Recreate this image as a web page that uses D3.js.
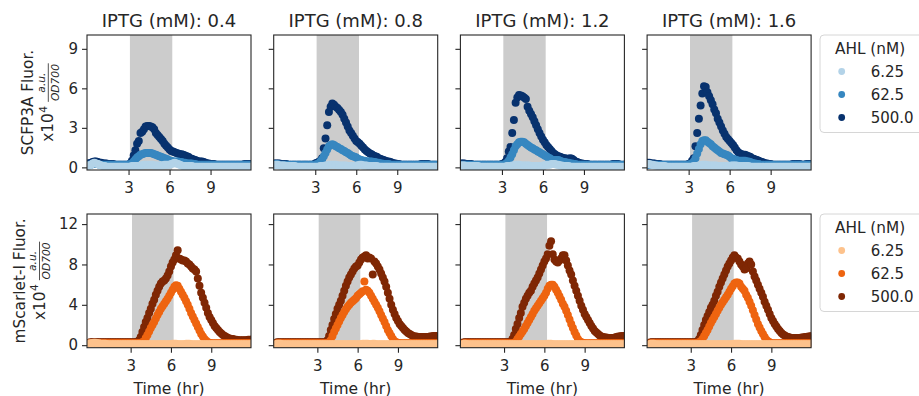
<!DOCTYPE html>
<html><head><meta charset="utf-8">
<script src="https://cdn.jsdelivr.net/npm/d3@7"></script>
<style>body{margin:0;background:#fff}svg{display:block;font-family:"DejaVu Sans",sans-serif}</style>
</head><body><svg id="c" width="919" height="396"></svg>
<script>
// ---------------- data ----------------
const time = [
 0,0.125,0.25,0.375,0.5,0.625,0.75,0.875,
 1,1.125,1.25,1.375,1.5,1.625,1.75,1.875,
 2,2.125,2.25,2.375,2.5,2.625,2.75,2.875,
 3,3.125,3.25,3.375,3.5,3.625,3.75,3.875,
 4,4.125,4.25,4.375,4.5,4.625,4.75,4.875,
 5,5.125,5.25,5.375,5.5,5.625,5.75,5.875,
 6,6.125,6.25,6.375,6.5,6.625,6.75,6.875,
 7,7.125,7.25,7.375,7.5,7.625,7.75,7.875,
 8,8.125,8.25,8.375,8.5,8.625,8.75,8.875,
 9,9.125,9.25,9.375,9.5,9.625,9.75,9.875,
 10,10.125,10.25,10.375,10.5,10.625,10.75,10.875,
 11,11.125,11.25,11.375,11.5,11.625,11.75,11.875,
 12];
const iptgLevels = ["0.4","0.8","1.2","1.6"];
const ahlLevels = ["6.25","62.5","500.0"];
const inductionWindow = [3.1, 6.2];
const cfpTicks = [0,3,6,9];
const rfpTicks = [0,4,8,12];
const timeTicks = [3,6,9];

// SCFP3A fluorescence (x10^4); IPTG 0.4/0.8/1.2/1.6; AHL lo=6.25, mid=62.5, hi=500
const cfp04_lo = [
 0.1,0.15,0.2,0.3,0.35,0.3,0.25,0.2,
 0.15,0.1,0.1,0.05,0.05,0.05,0.05,0.05,
 0.05,0.05,0.05,0.05,0.05,0.05,0.05,0.05,
 0.05,0.05,0.1,0.1,0.1,0.1,0.1,0.15,
 0.15,0.2,0.2,0.2,0.2,0.2,0.2,0.15,
 0.15,0.15,0.15,0.15,0.15,0.2,0.2,0.2,
 0.2,0.25,0.3,0.35,0.3,0.25,0.2,0.15,
 0.1,0.1,0.1,0.1,0.1,0.1,0.05,0.05,
 0.05,0.05,0.05,0.05,0.05,0.05,0.05,0.05,
 0.05,0.05,0.05,0.05,0.05,0.05,0.05,0.05,
 0.05,0.05,0.05,0.05,0.05,0.05,0.05,0.05,
 0.05,0.05,0.05,0.05,0.05,0.05,0.05,0.05,
 0.05];
const cfp04_mid = [
 0.2,0.2,0.2,0.25,0.25,0.25,0.25,0.2,
 0.2,0.2,0.2,0.2,0.2,0.2,0.2,0.2,
 0.2,0.2,0.2,0.2,0.2,0.2,0.2,0.2,
 0.2,0.25,0.3,0.45,0.6,0.75,0.85,0.95,
 1.0,1.05,1.1,1.1,1.1,1.1,1.05,1.0,
 0.95,0.9,0.85,0.8,0.75,0.7,0.65,0.6,
 0.5,0.5,0.45,0.45,0.45,0.45,0.4,0.4,
 0.35,0.35,0.3,0.3,0.3,0.3,0.25,0.25,
 0.2,0.2,0.2,0.2,0.2,0.2,0.2,0.2,
 0.2,0.2,0.2,0.2,0.2,0.2,0.2,0.2,
 0.2,0.2,0.2,0.2,0.2,0.2,0.2,0.2,
 0.2,0.2,0.2,0.2,0.2,0.2,0.2,0.2,
 0.2];
const cfp04_hi = [
 0.3,0.3,0.35,0.4,0.45,0.45,0.4,0.35,
 0.35,0.3,0.3,0.3,0.25,0.25,0.25,0.25,
 0.2,0.2,0.2,0.2,0.2,0.2,0.2,0.2,
 0.2,0.3,0.5,0.9,1.3,1.8,2.0,2.6,
 2.7,2.9,3.1,3.15,3.15,3.1,3.05,2.9,
 2.6,2.45,2.3,2.15,2.0,1.8,1.65,1.5,
 1.35,1.25,1.2,1.15,1.1,1.05,1.0,1.0,
 0.95,0.9,0.85,0.8,0.7,0.65,0.6,0.55,
 0.5,0.45,0.45,0.45,0.4,0.35,0.3,0.3,
 0.25,0.25,0.25,0.2,0.2,0.2,0.2,0.2,
 0.2,0.2,0.2,0.2,0.2,0.2,0.2,0.2,
 0.2,0.2,0.2,0.2,0.25,0.25,0.25,0.25,
 0.25];

const cfp08_lo = [
 0.15,0.2,0.2,0.15,0.15,0.15,0.15,0.1,
 0.1,0.1,0.1,0.1,0.1,0.05,0.05,0.05,
 0.05,0.05,0.05,0.05,0.05,0.05,0.05,0.05,
 0.05,0.05,0.05,0.1,0.1,0.1,0.15,0.15,
 0.2,0.2,0.2,0.2,0.2,0.15,0.15,0.15,
 0.15,0.15,0.15,0.1,0.1,0.1,0.1,0.1,
 0.15,0.15,0.2,0.2,0.15,0.15,0.15,0.1,
 0.1,0.1,0.1,0.1,0.1,0.05,0.05,0.05,
 0.05,0.05,0.05,0.05,0.05,0.05,0.05,0.05,
 0.05,0.05,0.05,0.05,0.05,0.05,0.05,0.05,
 0.05,0.05,0.05,0.05,0.05,0.05,0.05,0.05,
 0.05,0.05,0.05,0.05,0.05,0.05,0.05,0.05,
 0.05];
const cfp08_mid = [
 0.25,0.25,0.25,0.2,0.2,0.2,0.2,0.2,
 0.2,0.2,0.2,0.2,0.2,0.2,0.2,0.2,
 0.2,0.2,0.2,0.2,0.2,0.2,0.2,0.2,
 0.2,0.25,0.3,0.45,0.6,0.85,1.1,1.35,
 1.6,1.7,1.75,1.7,1.6,1.55,1.45,1.4,
 1.3,1.25,1.15,1.1,1.0,0.9,0.85,0.8,
 0.75,0.65,0.6,0.55,0.5,0.5,0.45,0.45,
 0.45,0.45,0.4,0.4,0.35,0.35,0.3,0.3,
 0.25,0.25,0.25,0.25,0.2,0.2,0.2,0.2,
 0.2,0.2,0.2,0.2,0.2,0.2,0.2,0.2,
 0.2,0.2,0.2,0.2,0.2,0.2,0.2,0.2,
 0.2,0.2,0.2,0.2,0.2,0.2,0.2,0.2,
 0.2];
const cfp08_hi = [
 0.3,0.3,0.3,0.3,0.25,0.25,0.25,0.25,
 0.2,0.2,0.2,0.2,0.2,0.2,0.2,0.2,
 0.2,0.2,0.2,0.2,0.2,0.2,0.2,0.2,
 0.3,0.35,0.4,0.5,0.7,1.45,2.2,3.2,
 4.2,4.6,4.85,4.75,4.6,4.5,4.35,4.2,
 4.0,3.7,3.4,3.1,2.8,2.6,2.4,2.2,
 2.0,1.9,1.8,1.65,1.5,1.35,1.25,1.15,
 1.05,1.0,0.9,0.85,0.8,0.7,0.65,0.6,
 0.55,0.5,0.45,0.45,0.4,0.35,0.3,0.3,
 0.25,0.25,0.2,0.2,0.2,0.2,0.2,0.2,
 0.2,0.2,0.2,0.2,0.2,0.2,0.25,0.25,
 0.25,0.25,0.25,0.2,0.2,0.2,0.2,0.2,
 0.2];

const cfp12_lo = [
 0.15,0.15,0.15,0.1,0.1,0.1,0.1,0.1,
 0.1,0.1,0.1,0.05,0.05,0.05,0.05,0.05,
 0.05,0.05,0.05,0.05,0.05,0.05,0.05,0.05,
 0.05,0.05,0.05,0.1,0.1,0.1,0.15,0.15,
 0.2,0.2,0.2,0.15,0.15,0.15,0.15,0.15,
 0.15,0.1,0.1,0.1,0.1,0.1,0.1,0.1,
 0.15,0.15,0.2,0.2,0.2,0.25,0.25,0.25,
 0.2,0.2,0.15,0.15,0.1,0.1,0.1,0.1,
 0.05,0.05,0.05,0.05,0.05,0.05,0.05,0.05,
 0.05,0.05,0.05,0.05,0.05,0.05,0.05,0.05,
 0.05,0.05,0.05,0.05,0.05,0.05,0.05,0.05,
 0.05,0.05,0.05,0.05,0.05,0.05,0.05,0.05,
 0.05];
const cfp12_mid = [
 0.2,0.2,0.2,0.2,0.2,0.2,0.2,0.2,
 0.2,0.2,0.2,0.2,0.2,0.2,0.2,0.2,
 0.2,0.2,0.2,0.2,0.2,0.2,0.2,0.2,
 0.2,0.2,0.25,0.35,0.5,0.75,1.0,1.3,
 1.6,1.75,1.9,1.95,1.95,1.9,1.8,1.7,
 1.6,1.5,1.45,1.35,1.3,1.2,1.15,1.05,
 1.0,0.9,0.85,0.75,0.7,0.6,0.55,0.55,
 0.55,0.55,0.5,0.45,0.4,0.4,0.35,0.35,
 0.3,0.3,0.25,0.25,0.2,0.2,0.2,0.2,
 0.2,0.2,0.2,0.2,0.2,0.2,0.2,0.2,
 0.2,0.2,0.2,0.2,0.2,0.2,0.2,0.2,
 0.2,0.2,0.2,0.2,0.2,0.2,0.2,0.2,
 0.2];
const cfp12_hi = [
 0.3,0.3,0.3,0.25,0.25,0.25,0.25,0.2,
 0.2,0.2,0.2,0.2,0.2,0.2,0.2,0.2,
 0.2,0.2,0.2,0.2,0.2,0.2,0.2,0.2,
 0.25,0.3,0.4,0.7,1.2,1.55,2.6,3.6,
 4.9,5.3,5.5,5.45,5.4,5.3,5.2,4.6,
 4.3,4.05,3.8,3.5,3.2,2.9,2.6,2.35,
 2.1,1.9,1.7,1.55,1.4,1.25,1.1,1.0,
 0.9,0.85,0.8,0.75,0.7,0.7,0.65,0.65,
 0.7,0.65,0.55,0.45,0.4,0.35,0.3,0.3,
 0.25,0.25,0.25,0.2,0.2,0.2,0.2,0.2,
 0.2,0.2,0.2,0.2,0.2,0.2,0.2,0.2,
 0.2,0.25,0.25,0.25,0.25,0.2,0.2,0.2,
 0.2];

const cfp16_lo = [
 0.25,0.25,0.2,0.2,0.15,0.15,0.1,0.1,
 0.1,0.1,0.1,0.05,0.05,0.05,0.05,0.05,
 0.05,0.05,0.05,0.05,0.05,0.05,0.05,0.05,
 0.05,0.05,0.05,0.1,0.1,0.1,0.15,0.15,
 0.2,0.2,0.2,0.15,0.15,0.15,0.15,0.15,
 0.15,0.1,0.1,0.1,0.1,0.1,0.1,0.1,
 0.1,0.15,0.15,0.15,0.15,0.1,0.1,0.1,
 0.1,0.1,0.1,0.1,0.05,0.05,0.05,0.05,
 0.05,0.05,0.05,0.05,0.05,0.05,0.05,0.05,
 0.05,0.05,0.05,0.05,0.05,0.05,0.05,0.05,
 0.05,0.05,0.05,0.05,0.05,0.05,0.05,0.05,
 0.05,0.05,0.05,0.05,0.05,0.05,0.05,0.05,
 0.05];
const cfp16_mid = [
 0.2,0.2,0.2,0.2,0.2,0.2,0.2,0.2,
 0.2,0.2,0.2,0.2,0.2,0.2,0.2,0.2,
 0.2,0.2,0.2,0.2,0.2,0.2,0.2,0.2,
 0.2,0.25,0.3,0.45,0.7,1.05,1.4,1.75,
 2.0,2.05,2.05,1.95,1.85,1.75,1.6,1.5,
 1.4,1.3,1.2,1.1,1.05,1.0,0.95,0.9,
 0.8,0.7,0.65,0.6,0.55,0.5,0.5,0.5,
 0.5,0.5,0.45,0.45,0.4,0.35,0.3,0.3,
 0.25,0.25,0.2,0.2,0.2,0.2,0.2,0.2,
 0.2,0.2,0.2,0.2,0.2,0.2,0.2,0.2,
 0.2,0.2,0.2,0.2,0.2,0.2,0.2,0.2,
 0.2,0.2,0.2,0.2,0.2,0.2,0.2,0.2,
 0.2];
const cfp16_hi = [
 0.35,0.35,0.3,0.3,0.3,0.25,0.25,0.25,
 0.2,0.2,0.2,0.2,0.2,0.2,0.2,0.2,
 0.2,0.2,0.2,0.2,0.2,0.2,0.2,0.2,
 0.25,0.3,0.5,0.7,1.6,2.6,3.7,4.7,
 5.6,6.15,6.1,5.7,5.4,5.1,4.8,4.4,
 4.1,3.7,3.4,3.1,2.8,2.55,2.3,2.15,
 2.0,1.85,1.7,1.5,1.3,1.15,1.05,1.0,
 0.95,0.95,0.9,0.85,0.8,0.7,0.65,0.6,
 0.55,0.5,0.45,0.4,0.35,0.3,0.3,0.25,
 0.25,0.2,0.2,0.2,0.2,0.2,0.2,0.2,
 0.2,0.2,0.2,0.2,0.2,0.25,0.25,0.25,
 0.25,0.25,0.2,0.2,0.2,0.25,0.25,0.25,
 0.25];

// mScarlet-I fluorescence (x10^4)
const rfp04_lo = [
 0.2,0.2,0.25,0.25,0.2,0.2,0.15,0.15,
 0.15,0.15,0.1,0.1,0.1,0.1,0.1,0.1,
 0.1,0.1,0.1,0.1,0.1,0.1,0.1,0.1,
 0.1,0.1,0.1,0.1,0.1,0.1,0.1,0.1,
 0.1,0.1,0.1,0.1,0.1,0.1,0.1,0.1,
 0.1,0.1,0.1,0.1,0.1,0.1,0.1,0.1,
 0.1,0.15,0.15,0.15,0.1,0.1,0.1,0.1,
 0.1,0.15,0.15,0.15,0.1,0.1,0.1,0.1,
 0.1,0.1,0.1,0.1,0.1,0.1,0.1,0.1,
 0.1,0.1,0.1,0.1,0.1,0.1,0.1,0.1,
 0.1,0.1,0.1,0.1,0.1,0.1,0.1,0.1,
 0.1,0.1,0.1,0.1,0.1,0.1,0.1,0.1,
 0.1];
const rfp04_mid = [
 0.2,0.2,0.2,0.2,0.2,0.2,0.2,0.2,
 0.2,0.2,0.2,0.2,0.2,0.2,0.2,0.2,
 0.2,0.2,0.2,0.2,0.2,0.2,0.2,0.2,
 0.2,0.2,0.2,0.2,0.2,0.2,0.25,0.3,
 0.4,0.7,1.0,1.35,1.7,2.0,2.3,2.65,
 3.0,3.3,3.6,3.85,4.1,4.35,4.6,4.9,
 5.2,5.5,5.8,5.95,5.9,5.6,5.3,5.0,
 4.7,4.35,4.0,3.6,3.2,2.85,2.5,2.15,
 1.8,1.45,1.1,0.85,0.6,0.45,0.3,0.25,
 0.2,0.2,0.2,0.2,0.2,0.2,0.2,0.2,
 0.2,0.2,0.2,0.2,0.2,0.2,0.2,0.2,
 0.2,0.2,0.2,0.2,0.2,0.2,0.2,0.2,
 0.2];
const rfp04_hi = [
 0.3,0.3,0.3,0.3,0.3,0.3,0.3,0.3,
 0.3,0.3,0.3,0.3,0.3,0.3,0.3,0.3,
 0.3,0.3,0.3,0.3,0.3,0.3,0.3,0.3,
 0.3,0.3,0.3,0.3,0.35,0.5,0.8,1.3,
 1.8,2.3,2.7,3.2,3.6,4.1,4.5,5.0,
 5.4,5.8,6.1,6.3,6.4,6.6,6.9,7.3,
 7.8,8.2,8.5,8.9,9.4,8.6,8.5,8.4,
 8.4,8.3,8.1,8.0,7.8,7.6,7.5,7.3,
 6.6,5.9,5.2,4.7,4.2,3.7,3.2,2.8,
 2.5,2.2,1.9,1.7,1.5,1.3,1.15,1.0,
 0.9,0.8,0.7,0.65,0.6,0.6,0.55,0.55,
 0.5,0.5,0.5,0.5,0.5,0.5,0.55,0.55,
 0.55];

const rfp08_lo = [
 0.15,0.15,0.15,0.1,0.1,0.1,0.1,0.1,
 0.1,0.1,0.1,0.1,0.1,0.1,0.1,0.1,
 0.1,0.1,0.1,0.1,0.1,0.1,0.1,0.1,
 0.1,0.1,0.1,0.1,0.1,0.1,0.1,0.1,
 0.1,0.1,0.1,0.1,0.1,0.1,0.1,0.1,
 0.1,0.1,0.1,0.1,0.1,0.1,0.1,0.1,
 0.1,0.1,0.1,0.15,0.15,0.15,0.15,0.1,
 0.1,0.15,0.15,0.1,0.1,0.1,0.1,0.1,
 0.1,0.1,0.1,0.1,0.1,0.1,0.1,0.1,
 0.1,0.1,0.1,0.1,0.1,0.1,0.1,0.1,
 0.1,0.1,0.1,0.1,0.1,0.1,0.1,0.1,
 0.1,0.1,0.1,0.1,0.1,0.1,0.1,0.1,
 0.1];
const rfp08_mid = [
 0.2,0.2,0.2,0.2,0.2,0.2,0.2,0.2,
 0.2,0.2,0.2,0.2,0.2,0.2,0.2,0.2,
 0.2,0.2,0.2,0.2,0.2,0.2,0.2,0.2,
 0.2,0.2,0.2,0.2,0.2,0.2,0.25,0.3,
 0.5,0.9,1.3,1.65,2.0,2.35,2.7,3.0,
 3.3,3.55,3.8,4.0,4.2,4.35,4.5,4.65,
 4.9,5.05,5.2,5.35,6.3,5.5,5.4,5.2,
 4.9,4.6,4.3,4.0,3.7,3.35,3.0,2.65,
 2.3,1.9,1.5,1.2,0.9,0.6,0.4,0.3,
 0.25,0.2,0.2,0.2,0.2,0.2,0.2,0.2,
 0.2,0.2,0.2,0.2,0.2,0.2,0.2,0.2,
 0.2,0.2,0.2,0.2,0.2,0.2,0.2,0.2,
 0.2];
const rfp08_hi = [
 0.3,0.3,0.3,0.3,0.3,0.3,0.3,0.3,
 0.3,0.3,0.3,0.3,0.3,0.3,0.3,0.3,
 0.3,0.3,0.3,0.3,0.3,0.3,0.3,0.3,
 0.3,0.3,0.3,0.3,0.3,0.3,0.5,0.9,
 1.5,2.0,2.6,3.1,3.6,4.0,4.4,4.9,
 5.4,5.9,6.3,6.7,7.0,7.3,7.6,7.8,
 7.9,8.2,8.5,8.7,8.8,8.9,8.6,8.7,
 8.6,7.0,8.3,8.1,7.8,7.5,7.1,6.7,
 6.3,5.8,5.2,4.6,4.0,3.5,3.1,2.7,
 2.4,2.1,1.9,1.7,1.5,1.35,1.2,1.1,
 1.0,0.9,0.85,0.85,0.8,0.8,0.8,0.8,
 0.8,0.8,0.8,0.85,0.85,0.9,0.9,0.9,
 0.9];

const rfp12_lo = [
 0.15,0.15,0.1,0.1,0.1,0.1,0.1,0.1,
 0.1,0.1,0.1,0.1,0.1,0.1,0.1,0.1,
 0.1,0.1,0.1,0.1,0.1,0.1,0.1,0.1,
 0.1,0.1,0.1,0.1,0.1,0.1,0.1,0.1,
 0.1,0.1,0.1,0.1,0.1,0.1,0.1,0.1,
 0.1,0.1,0.1,0.1,0.1,0.1,0.1,0.1,
 0.1,0.1,0.15,0.15,0.15,0.1,0.1,0.1,
 0.1,0.1,0.1,0.1,0.1,0.1,0.1,0.1,
 0.1,0.1,0.1,0.1,0.1,0.1,0.1,0.1,
 0.1,0.1,0.1,0.1,0.1,0.1,0.1,0.1,
 0.1,0.1,0.1,0.1,0.1,0.1,0.1,0.1,
 0.1,0.1,0.1,0.1,0.1,0.1,0.1,0.1,
 0.1];
const rfp12_mid = [
 0.2,0.2,0.2,0.2,0.2,0.2,0.2,0.2,
 0.2,0.2,0.2,0.2,0.2,0.2,0.2,0.2,
 0.2,0.2,0.2,0.2,0.2,0.2,0.2,0.2,
 0.2,0.2,0.2,0.2,0.2,0.2,0.25,0.35,
 0.6,0.85,1.1,1.35,1.6,1.9,2.2,2.5,
 2.8,3.1,3.4,3.65,3.9,4.15,4.4,4.65,
 4.9,5.2,5.6,5.9,6.0,6.0,5.8,5.5,
 5.2,4.85,4.5,4.1,3.8,3.4,3.0,2.55,
 2.1,1.7,1.3,0.95,0.6,0.4,0.3,0.25,
 0.2,0.2,0.2,0.2,0.2,0.2,0.2,0.2,
 0.2,0.2,0.2,0.2,0.2,0.2,0.2,0.2,
 0.2,0.2,0.2,0.2,0.2,0.2,0.2,0.2,
 0.2];
const rfp12_hi = [
 0.3,0.3,0.3,0.3,0.3,0.3,0.3,0.3,
 0.3,0.3,0.3,0.3,0.3,0.3,0.3,0.3,
 0.3,0.3,0.3,0.3,0.3,0.3,0.3,0.3,
 0.3,0.3,0.3,0.3,0.35,0.6,1.0,1.6,
 2.1,2.7,3.2,3.8,4.2,4.6,4.9,5.2,
 5.4,5.8,6.1,6.4,6.7,7.1,7.5,7.9,
 8.3,8.6,9.0,9.85,10.3,9.0,8.5,8.3,
 8.2,8.4,8.6,8.9,8.9,8.4,7.9,7.4,
 7.0,6.4,5.9,5.4,4.9,4.4,3.9,3.5,
 3.1,2.8,2.5,2.2,1.9,1.65,1.4,1.25,
 1.1,0.95,0.85,0.8,0.75,0.75,0.7,0.7,
 0.7,0.7,0.75,0.8,0.85,0.85,0.9,0.9,
 0.9];

const rfp16_lo = [
 0.15,0.15,0.15,0.1,0.1,0.1,0.1,0.1,
 0.1,0.1,0.1,0.1,0.1,0.1,0.1,0.1,
 0.1,0.1,0.1,0.1,0.1,0.1,0.1,0.1,
 0.1,0.1,0.1,0.1,0.1,0.1,0.1,0.1,
 0.1,0.1,0.1,0.1,0.1,0.1,0.1,0.1,
 0.1,0.1,0.1,0.1,0.1,0.1,0.1,0.1,
 0.1,0.1,0.15,0.15,0.15,0.15,0.1,0.1,
 0.1,0.1,0.1,0.1,0.1,0.1,0.1,0.1,
 0.1,0.1,0.1,0.1,0.1,0.1,0.1,0.1,
 0.1,0.1,0.1,0.1,0.1,0.1,0.1,0.1,
 0.1,0.1,0.1,0.1,0.1,0.1,0.1,0.1,
 0.1,0.1,0.1,0.1,0.1,0.1,0.1,0.1,
 0.1];
const rfp16_mid = [
 0.2,0.2,0.2,0.2,0.2,0.2,0.2,0.2,
 0.2,0.2,0.2,0.2,0.2,0.2,0.2,0.2,
 0.2,0.2,0.2,0.2,0.2,0.2,0.2,0.2,
 0.2,0.2,0.2,0.2,0.25,0.3,0.4,0.6,
 0.9,1.2,1.5,1.85,2.2,2.5,2.8,3.1,
 3.4,3.7,4.0,4.25,4.5,4.75,5.0,5.3,
 5.6,5.85,6.1,6.2,6.2,6.1,5.8,5.6,
 5.4,5.0,4.7,4.3,3.9,3.45,3.0,2.55,
 2.1,1.75,1.4,1.1,0.8,0.55,0.4,0.3,
 0.2,0.2,0.2,0.2,0.2,0.2,0.2,0.2,
 0.2,0.2,0.2,0.2,0.2,0.2,0.2,0.2,
 0.2,0.2,0.2,0.2,0.2,0.2,0.2,0.2,
 0.2];
const rfp16_hi = [
 0.3,0.3,0.3,0.3,0.3,0.3,0.3,0.3,
 0.3,0.3,0.3,0.3,0.3,0.3,0.3,0.3,
 0.3,0.3,0.3,0.3,0.3,0.3,0.3,0.3,
 0.3,0.3,0.3,0.3,0.4,0.6,1.0,1.5,
 2.0,2.5,2.9,3.3,3.7,4.0,4.4,4.9,
 5.3,5.8,6.2,6.6,7.0,7.4,7.8,8.1,
 8.4,8.7,8.9,8.7,8.6,8.3,8.0,7.8,
 7.5,7.6,8.1,8.3,8.0,7.3,6.8,6.4,
 6.0,5.6,5.2,4.8,4.3,3.9,3.5,3.1,
 2.7,2.4,2.1,1.85,1.6,1.4,1.2,1.05,
 0.95,0.85,0.8,0.75,0.7,0.7,0.7,0.7,
 0.7,0.7,0.75,0.75,0.8,0.8,0.85,0.85,
 0.9];

const bluePalette = ["#b3d3e8","#3787c0","#08326e"];
const orangePalette = ["#fdc28c","#ee6410","#7f2704"];

// ---------------- layout ----------------
const svg = d3.select("#c");
const ink = "#262626";
const panelLeft = [87, 273.7, 460.4, 647.1];
const panelW = 164;
const R = 4;

const rows = [
  {id:"cfp", top:35, bottom:170, xDomain:[-0.04,11.96], yDomain:[-0.2,10.05], yTicks:cfpTicks,
   colors:bluePalette, label:"SCFP3A Fluor.", labelX:33.3,
   series:[[cfp04_lo,cfp04_mid,cfp04_hi],[cfp08_lo,cfp08_mid,cfp08_hi],[cfp12_lo,cfp12_mid,cfp12_hi],[cfp16_lo,cfp16_mid,cfp16_hi]]},
  {id:"rfp", top:214, bottom:347.7, xDomain:[-0.25,11.96], yDomain:[-0.25,13.0], yTicks:rfpTicks,
   colors:orangePalette, label:"mScarlet-I Fluor.", labelX:24.5,
   series:[[rfp04_lo,rfp04_mid,rfp04_hi],[rfp08_lo,rfp08_mid,rfp08_hi],[rfp12_lo,rfp12_mid,rfp12_hi],[rfp16_lo,rfp16_mid,rfp16_hi]]}
];

const defs = svg.append("defs");

rows.forEach((row, ri) => {
  const y = d3.scaleLinear().domain(row.yDomain).range([row.bottom, row.top]);
  const h = row.bottom - row.top;
  iptgLevels.forEach((lvl, ci) => {
    const L = panelLeft[ci];
    const x = d3.scaleLinear().domain(row.xDomain).range([L, L + panelW]);
    const cid = `clip-${row.id}-${ci}`;
    defs.append("clipPath").attr("id", cid).append("rect")
      .attr("x", L).attr("y", row.top).attr("width", panelW).attr("height", h);
    const g = svg.append("g");
    const inner = g.append("g").attr("clip-path", `url(#${cid})`);
    inner.append("rect")
      .attr("x", x(inductionWindow[0])).attr("y", row.top)
      .attr("width", x(inductionWindow[1]) - x(inductionWindow[0])).attr("height", h)
      .attr("fill", "#cccccc");
    [2,1,0].forEach(k => {
      const vals = row.series[ci][k];
      inner.append("g").selectAll("circle").data(time.map((t,i)=>({t, v:vals[i]})))
        .join("circle")
        .attr("cx", d => x(d.t)).attr("cy", d => y(d.v)).attr("r", R)
        .attr("fill", row.colors[k]);
    });
    const ya = g.append("g").attr("transform", `translate(${L},0)`)
      .call(d3.axisLeft(y).tickValues(row.yTicks).tickSize(5).tickPadding(4)
        .tickFormat(ci === 0 ? d3.format("d") : () => ""));
    const xa = g.append("g").attr("transform", `translate(0,${row.bottom})`)
      .call(d3.axisBottom(x).tickValues(timeTicks).tickSize(5).tickPadding(7.5).tickFormat(d3.format("d")));
    [ya, xa].forEach(a => {
      a.select(".domain").remove();
      a.selectAll("line").attr("stroke", ink).attr("stroke-width", 1.1);
      a.selectAll("text").attr("fill", ink).style("font-size", "15px").style("font-family", "DejaVu Sans");
    });
    g.append("rect").attr("x", L).attr("y", row.top).attr("width", panelW).attr("height", h)
      .attr("fill", "none").attr("stroke", ink).attr("stroke-width", 1.1);
    if (ri === 0) {
      g.append("text").attr("x", L + panelW/2).attr("y", 27.3).attr("text-anchor", "middle")
        .attr("fill", ink).style("font-size", "18px").text(`IPTG (mM): ${lvl}`);
    } else {
      g.append("text").attr("x", L + panelW/2).attr("y", 393.5).attr("text-anchor", "middle")
        .attr("fill", ink).style("font-size", "15.5px").text("Time (hr)");
    }
  });

  const cy = (row.top + row.bottom) / 2;
  svg.append("text").attr("transform", `translate(${row.labelX},${cy}) rotate(-90)`)
    .attr("text-anchor", "middle").attr("fill", ink).style("font-size", "15.3px").text(row.label);
  const l2 = svg.append("g").attr("transform", `translate(${row.labelX + 20},${cy}) rotate(-90)`);
  const inner2 = l2.append("g");
  let cx = 0;
  const t1 = inner2.append("text").attr("x", cx).attr("y", 0).attr("fill", ink).style("font-size", "15.3px").text("x10");
  cx += t1.node().getComputedTextLength() + 0.5;
  const t2 = inner2.append("text").attr("x", cx).attr("y", -6.5).attr("fill", ink).style("font-size", "10.7px").text("4");
  cx += t2.node().getComputedTextLength() + 4;
  const num = inner2.append("text").attr("y", -8.3).attr("fill", ink).attr("text-anchor", "middle")
    .style("font-size", "10.7px").style("font-style", "italic").text("a.u.");
  const den = inner2.append("text").attr("y", 5.4).attr("fill", ink).attr("text-anchor", "middle")
    .style("font-size", "10.7px").style("font-style", "italic").text("OD700");
  const fw = Math.max(num.node().getComputedTextLength(), den.node().getComputedTextLength()) + 1.5;
  num.attr("x", cx + fw/2); den.attr("x", cx + fw/2);
  inner2.append("line").attr("x1", cx).attr("x2", cx + fw).attr("y1", -5).attr("y2", -5)
    .attr("stroke", ink).attr("stroke-width", 0.8);
  const total = cx + fw;
  inner2.attr("transform", `translate(${-total/2},0)`);

  const lg = svg.append("g");
  lg.append("rect").attr("x", 820).attr("y", row.top).attr("width", 115).attr("height", 97.5)
    .attr("rx", 4).attr("fill", "#fff").attr("stroke", "#d6d6d6").attr("stroke-width", 1);
  lg.append("text").attr("x", 835).attr("y", row.top + 19.3).attr("fill", ink)
    .style("font-size", "15.3px").text("AHL (nM)");
  ahlLevels.forEach((a, i) => {
    const yy = row.top + 36.5 + 23 * i;
    lg.append("circle").attr("cx", 841.7).attr("cy", yy).attr("r", 3.4).attr("fill", row.colors[i]);
    lg.append("text").attr("x", 870.7).attr("y", yy + 5.4).attr("fill", ink)
      .style("font-size", "15px").text(a);
  });
});
</script>
</body></html>
